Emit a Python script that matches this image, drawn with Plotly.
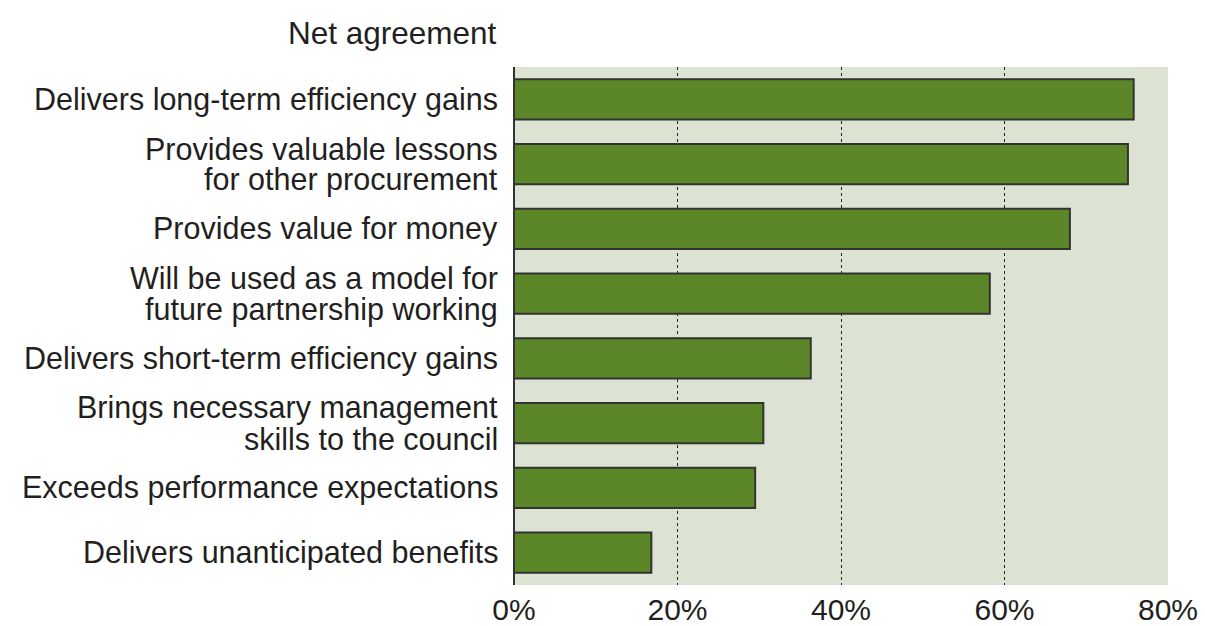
import plotly.graph_objects as go

categories = [
    "Delivers long-term efficiency gains",
    "Provides valuable lessons<br>for other procurement",
    "Provides value for money",
    "Will be used as a model for<br>future partnership working",
    "Delivers short-term efficiency gains",
    "Brings necessary management<br>skills to the council",
    "Exceeds performance expectations",
    "Delivers unanticipated benefits",
]
values = [75.8, 75.1, 68.0, 58.2, 36.3, 30.5, 29.5, 16.8]
tick_vals = [0, 20, 40, 60, 80]
tick_text = ["0%", "20%", "40%", "60%", "80%"]

FONT = "Liberation Sans, Arial, Helvetica, sans-serif"
TXT = "#231f20"
LABEL_SIZE = 30.5
LINE_STEP = 31

fig = go.Figure(
    go.Bar(
        x=values,
        y=categories,
        orientation="h",
        marker=dict(color="#5b8729", line=dict(color="#333333", width=2)),
        hoverinfo="skip",
    )
)

annotations = [
    dict(
        text="Net agreement",
        xref="paper", yref="paper",
        x=0, y=1, xanchor="right", yanchor="middle",
        xshift=-15, yshift=34,
        showarrow=False,
        font=dict(family=FONT, size=31.5, color=TXT),
    )
]
for cat in categories:
    lines = cat.split("<br>")
    n = len(lines)
    for i, line in enumerate(lines):
        offset = ((n - 1) / 2 - i) * LINE_STEP
        annotations.append(
            dict(
                text=line,
                xref="paper", yref="y",
                x=0, y=cat, xanchor="right", yanchor="middle",
                xshift=-15, yshift=offset,
                showarrow=False,
                borderpad=0,
                font=dict(family=FONT, size=LABEL_SIZE, color=TXT),
            )
        )

fig.update_layout(
    width=1205,
    height=626,
    margin=dict(l=514, r=37, t=67, b=41, autoexpand=False),
    paper_bgcolor="white",
    plot_bgcolor="#dde3d3",
    bargap=0.38,
    showlegend=False,
    font=dict(family=FONT, size=LABEL_SIZE, color=TXT),
    annotations=annotations,
)

fig.update_xaxes(
    range=[0, 80],
    tickvals=tick_vals,
    ticktext=tick_text,
    showgrid=True,
    gridcolor="#222222",
    gridwidth=1,
    griddash="dot",
    zeroline=True,
    zerolinecolor="#333333",
    zerolinewidth=2,
    ticks="",
    ticklabelstandoff=4,
    ticklabeloverflow="allow",
    automargin=False,
    tickfont=dict(family=FONT, size=30, color=TXT),
    fixedrange=True,
)

fig.update_yaxes(
    categoryorder="array",
    categoryarray=categories[::-1],
    autorange=False,
    range=[-0.5, len(categories) - 0.5],
    showgrid=False,
    showticklabels=False,
    ticks="",
    automargin=False,
    fixedrange=True,
)

fig.write_html(
    "out.html",
    config={"displayModeBar": False, "staticPlot": True},
    post_script="document.body.style.margin='0';document.body.style.overflow='hidden';",
)
